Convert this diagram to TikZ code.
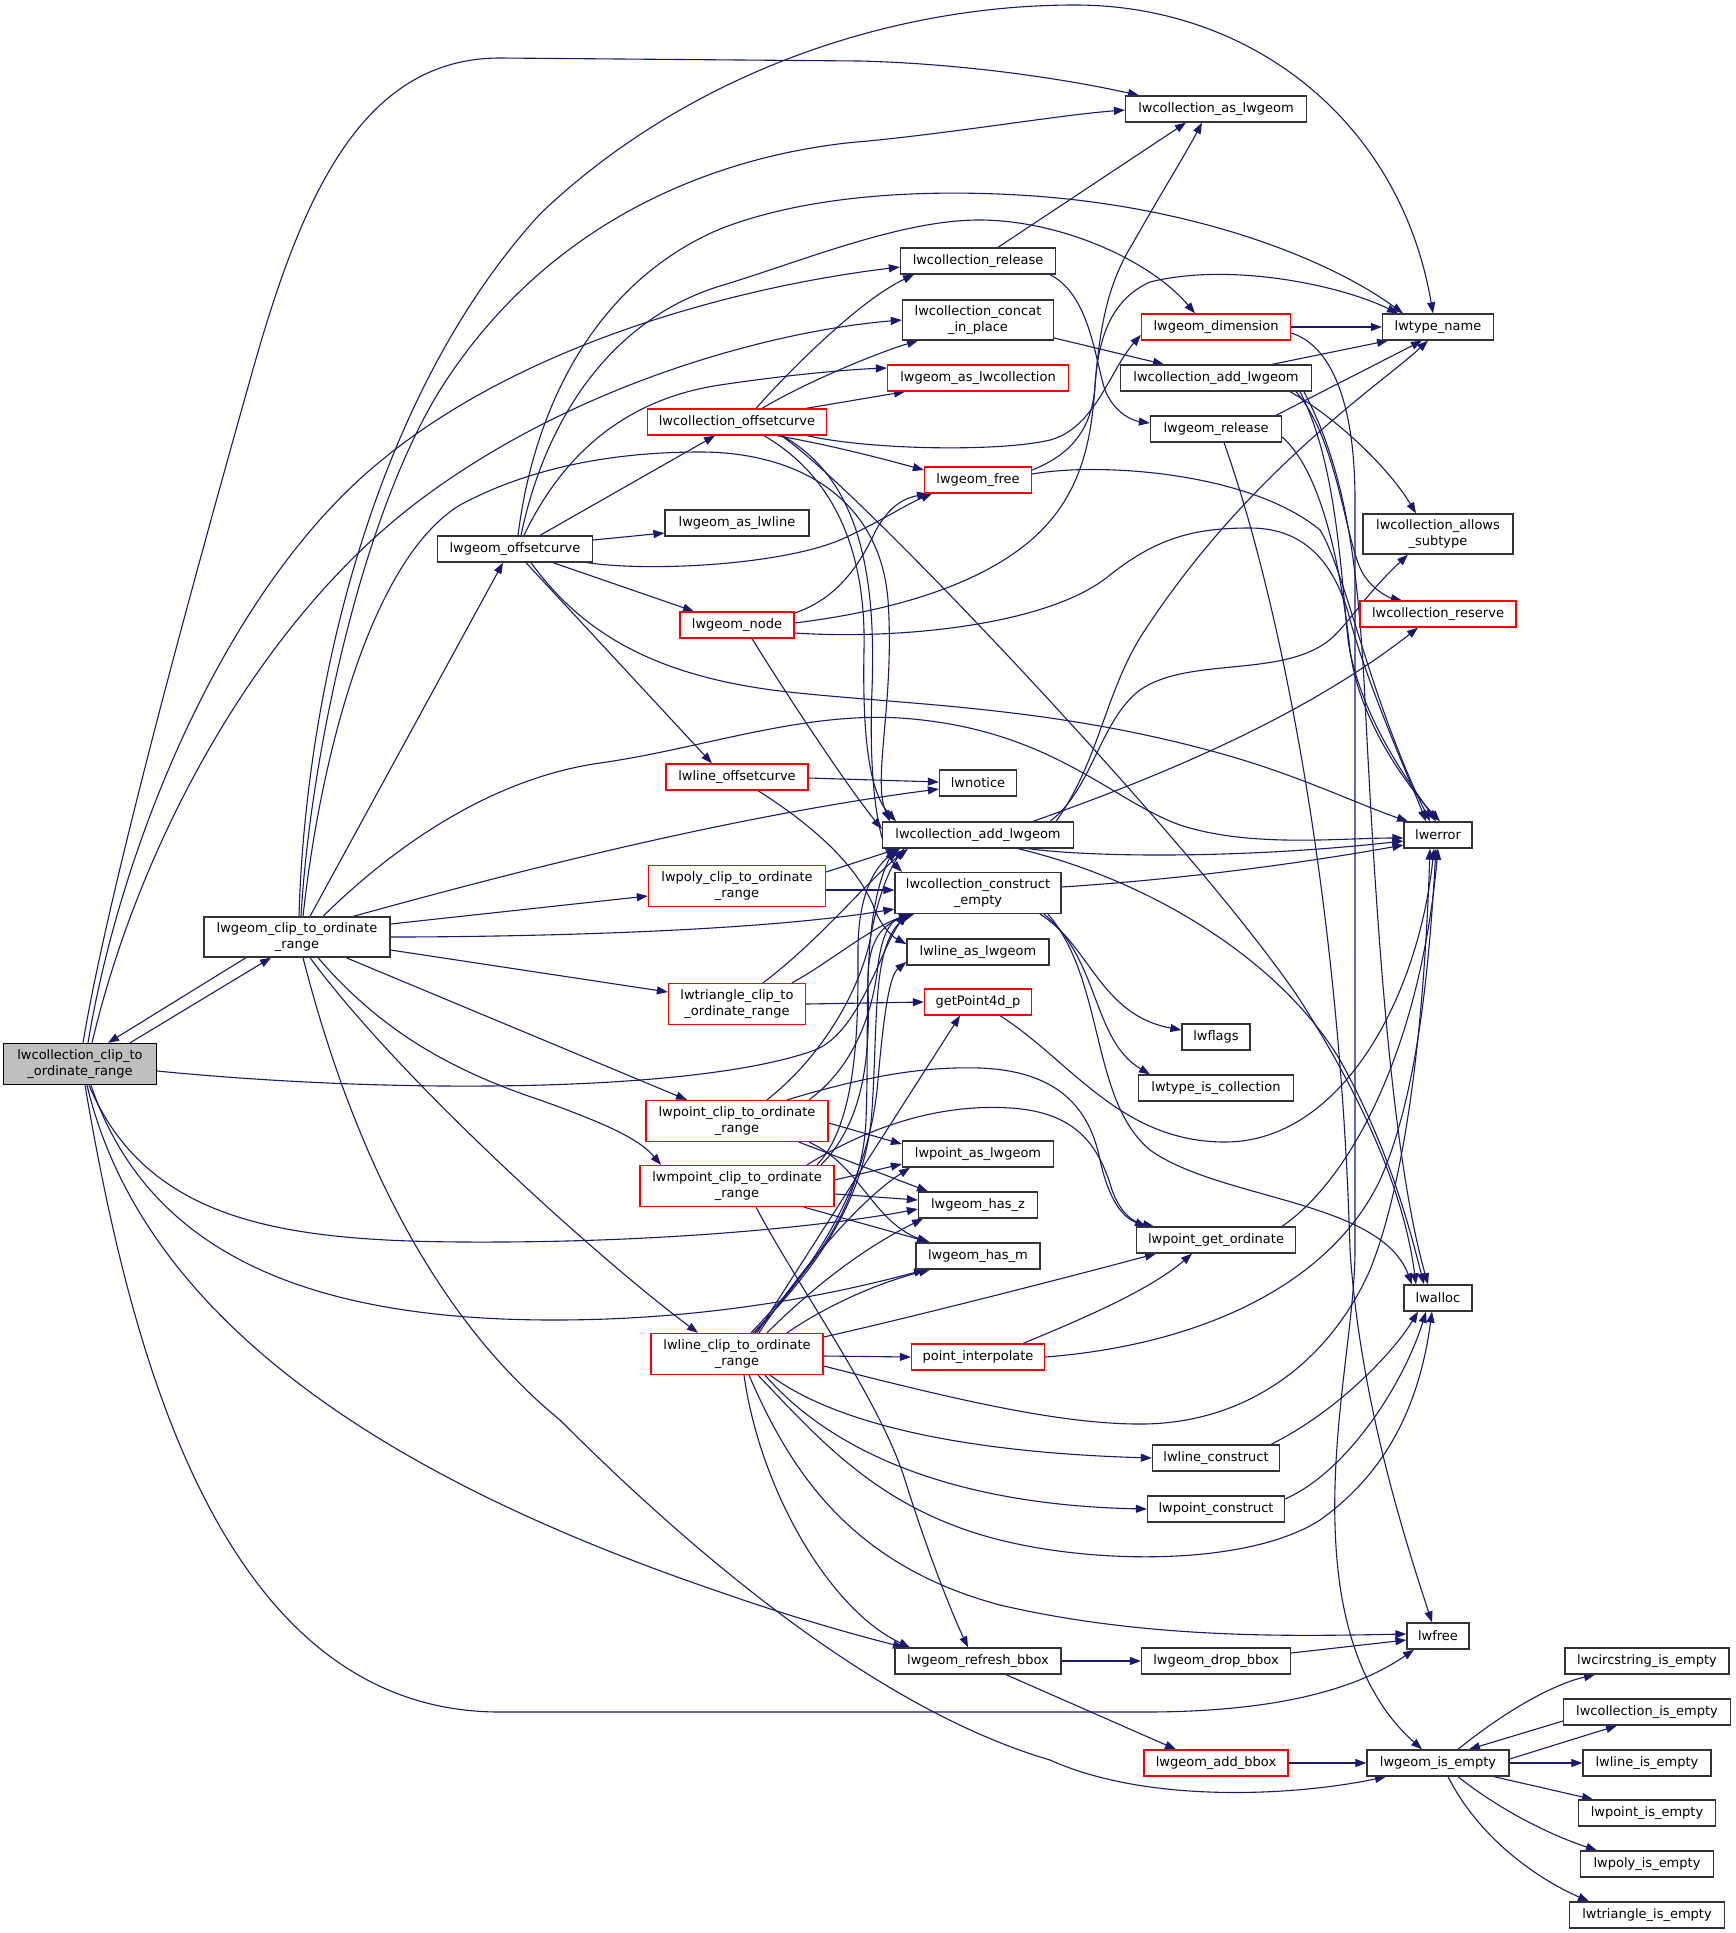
\documentclass[tikz,border=0pt]{standalone}
\usepackage{fontspec}
\setmainfont{DejaVu Sans}
\usetikzlibrary{arrows.meta}
\pgfdeclarelayer{back}
\pgfdeclarelayer{bg}
\pgfsetlayers{back,bg,main}
\definecolor{ecol}{HTML}{191970}
\definecolor{bcol}{HTML}{333333}
\definecolor{rcol}{HTML}{FF0000}
\definecolor{gcol}{HTML}{BFBFBF}
\newcommand{\dxf}{\fontsize{13pt}{15.5pt}\selectfont}
\begin{document}
\begin{tikzpicture}[x=1pt,y=-1pt,
  bbox/.style={draw=bcol, line width=1.3pt, fill=white, inner sep=0pt, minimum height=26pt, font=\dxf, align=center, text=black},
  rbox/.style={bbox, draw=rcol},
  gbox/.style={bbox, fill=gcol, draw=black},
  e/.style={draw=ecol, line width=1.1pt, -{Triangle[length=11pt,width=8pt]}}]
\useasboundingbox (0,0) rectangle (1736,1933);
\begin{pgfonlayer}{back}
\fill[white] (0,0) rectangle (1736,1933);
\end{pgfonlayer}
% nodes
\node[gbox, minimum width=153pt, minimum height=41pt] (A) at (80,1064) {lwcollection\_clip\_to\\\_ordinate\_range};
\node[bbox, minimum width=186pt, minimum height=40pt] (B) at (297,937) {lwgeom\_clip\_to\_ordinate\\\_range};
\node[bbox, minimum width=155pt] (OC) at (515,549) {lwgeom\_offsetcurve};
\node[rbox, minimum width=179pt] (COC) at (737,422) {lwcollection\_offsetcurve};
\node[bbox, minimum width=144pt] (ASL) at (737,523) {lwgeom\_as\_lwline};
\node[rbox, minimum width=114pt] (NODE) at (737,625) {lwgeom\_node};
\node[rbox, minimum width=142pt] (LOC) at (737,777) {lwline\_offsetcurve};
\node[rbox, minimum width=177pt, minimum height=41pt] (POLY) at (737,886) {lwpoly\_clip\_to\_ordinate\\\_range};
\node[rbox, minimum width=137pt, minimum height=41pt] (TRI) at (737,1004) {lwtriangle\_clip\_to\\\_ordinate\_range};
\node[rbox, minimum width=182pt, minimum height=41pt] (PT) at (737,1121) {lwpoint\_clip\_to\_ordinate\\\_range};
\node[rbox, minimum width=194pt, minimum height=41pt] (MPT) at (737,1186) {lwmpoint\_clip\_to\_ordinate\\\_range};
\node[rbox, minimum width=172pt, minimum height=41pt] (LINE) at (737,1354) {lwline\_clip\_to\_ordinate\\\_range};
\node[bbox, minimum width=181pt] (CAS) at (1216,109) {lwcollection\_as\_lwgeom};
\node[bbox, minimum width=155pt] (REL) at (978,261) {lwcollection\_release};
\node[bbox, minimum width=151pt, minimum height=40pt] (CAT) at (978,320) {lwcollection\_concat\\\_in\_place};
\node[rbox, minimum width=181pt] (ASC) at (978,378) {lwgeom\_as\_lwcollection};
\node[rbox, minimum width=107pt] (FREE) at (978,480) {lwgeom\_free};
\node[bbox, minimum width=77pt] (NOTICE) at (978,783) {lwnotice};
\node[bbox, minimum width=191pt] (ADD) at (978,835) {lwcollection\_add\_lwgeom};
\node[bbox, minimum width=166pt, minimum height=41pt] (CE) at (978,893) {lwcollection\_construct\\\_empty};
\node[bbox, minimum width=142pt] (LAS) at (978,952) {lwline\_as\_lwgeom};
\node[rbox, minimum width=107pt] (GP4) at (978,1002) {getPoint4d\_p};
\node[bbox, minimum width=151pt] (PAS) at (978,1154) {lwpoint\_as\_lwgeom};
\node[bbox, minimum width=119pt] (HZ) at (978,1205) {lwgeom\_has\_z};
\node[bbox, minimum width=124pt] (HM) at (978,1256) {lwgeom\_has\_m};
\node[rbox, minimum width=133pt] (PI) at (978,1357) {point\_interpolate};
\node[bbox, minimum width=166pt] (RB) at (978,1661) {lwgeom\_refresh\_bbox};
\node[rbox, minimum width=149pt] (DIM) at (1216,327) {lwgeom\_dimension};
\node[bbox, minimum width=191pt] (ADD2) at (1216,378) {lwcollection\_add\_lwgeom};
\node[bbox, minimum width=131pt] (REL2) at (1216,429) {lwgeom\_release};
\node[bbox, minimum width=68pt] (FLAGS) at (1216,1037) {lwflags};
\node[bbox, minimum width=155pt] (TIC) at (1216,1088) {lwtype\_is\_collection};
\node[bbox, minimum width=159pt] (GO) at (1216,1240) {lwpoint\_get\_ordinate};
\node[bbox, minimum width=127pt] (LC) at (1216,1458) {lwline\_construct};
\node[bbox, minimum width=137pt] (PC) at (1216,1509) {lwpoint\_construct};
\node[bbox, minimum width=149pt] (DB) at (1216,1661) {lwgeom\_drop\_bbox};
\node[rbox, minimum width=144pt] (AB) at (1216,1763) {lwgeom\_add\_bbox};
\node[bbox, minimum width=111pt] (TN) at (1438,327) {lwtype\_name};
\node[bbox, minimum width=150pt, minimum height=40pt] (ALLOWS) at (1438,534) {lwcollection\_allows\\\_subtype};
\node[rbox, minimum width=156pt] (RES) at (1438,614) {lwcollection\_reserve};
\node[bbox, minimum width=68pt] (ERR) at (1438,835) {lwerror};
\node[bbox, minimum width=68pt] (ALLOC) at (1438,1298) {lwalloc};
\node[bbox, minimum width=62pt] (LWFREE) at (1438,1636) {lwfree};
\node[bbox, minimum width=142pt] (ISE) at (1438,1763) {lwgeom\_is\_empty};
\node[bbox, minimum width=164pt] (CIRC) at (1647,1661) {lwcircstring\_is\_empty};
\node[bbox, minimum width=167pt] (COLL) at (1647,1712) {lwcollection\_is\_empty};
\node[bbox, minimum width=128pt] (LISE) at (1647,1763) {lwline\_is\_empty};
\node[bbox, minimum width=137pt] (PISE) at (1647,1813) {lwpoint\_is\_empty};
\node[bbox, minimum width=133pt] (POISE) at (1647,1864) {lwpoly\_is\_empty};
\node[bbox, minimum width=155pt] (TISE) at (1647,1915) {lwtriangle\_is\_empty};
\begin{pgfonlayer}{bg}
% A
\draw[e] ([xshift=50pt]A.north) -- ([xshift=-26pt]B.south);
\draw[e] ([xshift=-51pt]B.south) -- ([xshift=28pt]A.north);
\draw[e] ([xshift=3pt]A.north) .. controls (110,880) and (205,540) .. (250,380) .. controls (300,200) and (360,58) .. (500,58) -- (860,61) .. controls (970,64) and (1070,80) .. ([xshift=-77pt]CAS.north);
\draw[e] ([xshift=8pt]A.north) .. controls (120,850) and (220,600) .. (370,470) .. controls (520,340) and (750,285) .. ([yshift=-6pt]REL.west);
\draw[e] ([xshift=12pt]A.north) .. controls (140,840) and (260,620) .. (420,500) .. controls (580,380) and (780,330) .. (CAT.west);
\draw[e] ([yshift=-7pt]A.east) .. controls (400,1095) and (700,1092) .. (815,1050) .. controls (860,1032) and (880,950) .. ([xshift=-72pt]CE.south);
\draw[e] ([xshift=9pt]A.south) .. controls (150,1230) and (300,1243) .. (500,1242) .. controls (700,1241) and (850,1222) .. ([yshift=-4pt]HZ.west);
\draw[e] ([xshift=11pt]A.south) .. controls (150,1260) and (320,1320) .. (554,1320) .. controls (720,1320) and (850,1290) .. ([xshift=-53pt]HM.south);
\draw[e] ([xshift=7pt]A.south) .. controls (150,1350) and (450,1500) .. (720,1592) .. controls (800,1620) and (860,1636) .. ([xshift=-74pt]RB.north);
\draw[e] ([xshift=5pt]A.south) .. controls (130,1350) and (220,1712) .. (500,1712) -- (1145,1712) .. controls (1300,1712) and (1370,1680) .. ([xshift=-24pt]LWFREE.south);
% B
\draw[e] ([xshift=13pt]B.north) -- ([xshift=-12pt]OC.south);
\draw[e] ([xshift=4pt]B.north) .. controls (310,760) and (360,520) .. (440,390) .. controls (560,200) and (750,150) .. (868,141) .. controls (960,132) and (1060,115) .. ([yshift=-1pt]CAS.west);
\draw[e] ([xshift=2pt]B.north) .. controls (305,700) and (370,400) .. (540,214) .. controls (680,80) and (880,5) .. (1075,5) .. controls (1250,5) and (1400,120) .. ([xshift=-5pt]TN.north);
\draw[e] ([xshift=6pt]B.north) .. controls (320,760) and (370,560) .. (460,505) .. controls (540,462) and (630,452) .. (700,452) .. controls (800,452) and (880,500) .. (888,600) .. controls (895,700) and (872,780) .. ([xshift=-88pt]ADD.north);
\draw[e] ([xshift=56pt]B.north) .. controls (450,890) and (700,820) .. ([yshift=-6pt]NOTICE.west);
\draw[e] ([xshift=26pt]B.north) .. controls (380,860) and (480,780) .. (600,763) .. controls (700,749) and (800,712) .. (900,718) .. controls (1050,728) and (1110,800) .. (1180,825) .. controls (1250,848) and (1340,838) .. ([yshift=-3pt]ERR.west);
\draw[e] ([yshift=13pt]B.east) -- ([yshift=-10pt]POLY.west);
\draw[e] (B.east) .. controls (500,937) and (750,933) .. ([yshift=-16pt]CE.west);
\draw[e] ([yshift=-13pt]B.east) -- ([yshift=12pt]TRI.west);
\draw[e] ([xshift=49pt]B.south) -- ([xshift=-50pt]PT.north);
\draw[e] ([xshift=21pt]B.south) .. controls (380,1030) and (450,1070) .. (540,1100) .. controls (610,1125) and (640,1140) .. ([xshift=-76pt]MPT.north);
\draw[e] ([xshift=13pt]B.south) .. controls (400,1080) and (600,1260) .. ([xshift=-39pt]LINE.north);
\draw[e] ([xshift=6pt]B.south) .. controls (360,1180) and (450,1330) .. (560,1420) .. controls (700,1560) and (880,1710) .. (1050,1760) .. controls (1150,1805) and (1300,1795) .. ([xshift=-52pt]ISE.south);
% OC
\draw[e] ([xshift=25pt]OC.north) -- ([xshift=-22pt]COC.south);
\draw[e] ([yshift=9pt]OC.east) -- ([yshift=-10pt]ASL.west);
\draw[e] ([xshift=38pt]OC.south) -- ([xshift=-43pt]NODE.north);
\draw[e] ([xshift=11pt]OC.south) -- ([xshift=-25pt]LOC.north);
\draw[e] ([xshift=72pt]OC.south) .. controls (650,572) and (780,565) .. (840,540) .. controls (880,522) and (905,505) .. ([xshift=-46pt]FREE.south);
\draw[e] ([xshift=6pt]OC.north) .. controls (545,420) and (610,320) .. (720,286) .. controls (800,262) and (900,220) .. (979,220) .. controls (1060,220) and (1150,260) .. ([xshift=-21pt]DIM.north);
\draw[e] ([xshift=3pt]OC.north) .. controls (535,400) and (600,280) .. (720,229) .. controls (820,190) and (950,190) .. (1034,196) .. controls (1200,208) and (1330,260) .. ([xshift=-35pt]TN.north);
\draw[e] ([xshift=9pt]OC.north) .. controls (560,460) and (620,400) .. (720,385) .. controls (800,373) and (860,369) .. ([yshift=10pt]ASC.west);
\draw[e] ([xshift=16pt]OC.south) .. controls (580,630) and (650,675) .. (780,691) .. controls (900,705) and (1050,705) .. (1226,755) .. controls (1300,776) and (1360,805) .. ([xshift=-30pt]ERR.north);
% COC
\draw[e] ([xshift=19pt]COC.north) .. controls (790,370) and (860,300) .. ([xshift=-64pt]REL.south);
\draw[e] ([xshift=25pt]COC.north) .. controls (810,380) and (880,352) .. ([xshift=-60pt]CAT.south);
\draw[e] ([xshift=69pt]COC.north) -- ([xshift=-73pt]ASC.south);
\draw[e] ([xshift=40pt]COC.south) .. controls (830,445) and (880,458) .. ([yshift=10pt]FREE.west);
\draw[e] ([xshift=70pt]COC.south) .. controls (870,450) and (1000,452) .. (1050,440) .. controls (1095,428) and (1110,370) .. ([yshift=-8pt]DIM.west);
\draw[e] ([xshift=27pt]COC.south) .. controls (840,480) and (866,560) .. (864,650) .. controls (862,750) and (872,795) .. ([xshift=-82pt]ADD.north);
\draw[e] ([xshift=45pt]COC.south) .. controls (862,480) and (876,580) .. (872,690) .. controls (868,790) and (880,850) .. ([xshift=-76pt]CE.north);
\draw[e] ([xshift=44pt]COC.south) .. controls (850,480) and (1200,850) .. (1300,1000) .. controls (1370,1110) and (1405,1200) .. ([xshift=-22pt]ALLOC.north);
% NODE
\draw[e] ([yshift=12pt]NODE.east) .. controls (840,598) and (862,560) .. (876,530) .. controls (890,505) and (905,498) .. ([xshift=-50pt]FREE.south);
\draw[e] ([yshift=2pt]NODE.east) .. controls (900,610) and (1000,580) .. (1050,521) .. controls (1085,480) and (1092,430) .. (1095,386) .. controls (1098,340) and (1110,300) .. (1150,282) .. controls (1230,262) and (1340,285) .. ([xshift=-40pt]TN.north);
\draw[e] ([yshift=-8pt]NODE.east) .. controls (900,640) and (1050,625) .. (1110,575) .. controls (1160,535) and (1200,528) .. (1250,528) .. controls (1310,528) and (1335,570) .. (1348,612) .. controls (1365,680) and (1410,780) .. ([xshift=-12pt]ERR.north);
\draw[e] ([xshift=15pt]NODE.south) .. controls (790,700) and (850,790) .. ([yshift=6pt]ADD.west);
% LOC
\draw[e] ([yshift=-1pt]LOC.east) -- ([yshift=1pt]NOTICE.west);
\draw[e] ([xshift=21pt]LOC.south) .. controls (820,830) and (860,870) .. (875,910) .. controls (883,930) and (895,938) .. ([yshift=8pt]LAS.west);
% POLY
\draw[e] ([yshift=-4pt]POLY.east) -- ([yshift=3pt]CE.west);
\draw[e] ([yshift=14pt]POLY.east) -- ([xshift=-80pt]ADD.south);
% TRI
\draw[e] (TRI.east) -- (GP4.west);
\draw[e] ([xshift=26pt]TRI.north) .. controls (820,940) and (868,880) .. ([xshift=-70pt]ADD.south);
\draw[e] ([xshift=55pt]TRI.north) .. controls (830,962) and (870,928) .. ([xshift=-68pt]CE.south);
% PT
\draw[e] ([xshift=30pt]PT.north) .. controls (830,1050) and (862,980) .. (870,940) .. controls (878,895) and (890,868) .. ([xshift=-74pt]ADD.south);
\draw[e] ([xshift=72pt]PT.north) .. controls (850,1070) and (872,1020) .. (878,965) .. controls (882,935) and (890,920) .. ([xshift=-66pt]CE.south);
\draw[e] ([yshift=-2pt]PT.east) -- ([yshift=10pt]PAS.west);
\draw[e] ([xshift=62pt]PT.south) -- ([xshift=-50pt]HZ.north);
\draw[e] ([xshift=72pt]PT.south) .. controls (860,1165) and (872,1220) .. ([xshift=-50pt]HM.north);
\draw[e] ([xshift=50pt]PT.north) .. controls (860,1078) and (920,1066) .. (980,1068) .. controls (1060,1071) and (1090,1110) .. (1100,1160) .. controls (1110,1205) and (1125,1218) .. ([xshift=-70pt]GO.north);
% MPT
\draw[e] ([xshift=80pt]MPT.north) .. controls (860,1120) and (858,1010) .. (858,950) .. controls (858,900) and (872,868) .. ([xshift=-78pt]ADD.south);
\draw[e] ([xshift=84pt]MPT.north) .. controls (866,1120) and (870,1050) .. (868,990) .. controls (866,940) and (882,924) .. ([xshift=-64pt]CE.south);
\draw[e] ([yshift=6pt]MPT.east) -- ([yshift=-10pt]PAS.west);
\draw[e] ([yshift=-8pt]MPT.east) -- ([yshift=5pt]HZ.west);
\draw[e] ([xshift=67pt]MPT.south) -- ([xshift=-48pt]HM.north);
\draw[e] ([xshift=70pt]MPT.north) .. controls (880,1120) and (950,1104) .. (1010,1108) .. controls (1080,1112) and (1100,1150) .. (1112,1190) .. controls (1120,1212) and (1132,1222) .. ([xshift=-62pt]GO.north);
\draw[e] ([xshift=19pt]MPT.south) .. controls (800,1290) and (880,1400) .. (905,1480) .. controls (930,1560) and (955,1620) .. ([xshift=-10pt]RB.north);
% LINE
\draw[e] ([xshift=14pt]LINE.north) .. controls (810,1270) and (862,1210) .. (866,1120) .. controls (870,1020) and (860,920) .. ([xshift=-84pt]ADD.south);
\draw[e] ([xshift=16pt]LINE.north) .. controls (815,1270) and (866,1200) .. (872,1110) .. controls (878,1020) and (872,950) .. ([xshift=-70pt]CE.south);
\draw[e] ([xshift=18pt]LINE.north) .. controls (820,1260) and (870,1180) .. (878,1080) .. controls (884,1010) and (890,975) .. ([yshift=-10pt]LAS.west);
\draw[e] ([xshift=20pt]LINE.north) -- ([xshift=-18pt]GP4.south);
\draw[e] ([xshift=22pt]LINE.north) .. controls (800,1270) and (860,1200) .. ([xshift=-68pt]PAS.south);
\draw[e] ([xshift=30pt]LINE.north) .. controls (810,1290) and (860,1250) .. ([xshift=-55pt]HZ.south);
\draw[e] ([xshift=50pt]LINE.north) .. controls (820,1310) and (870,1285) .. ([xshift=-48pt]HM.south);
\draw[e] ([yshift=17pt]LINE.east) .. controls (900,1320) and (1050,1282) .. ([xshift=-60pt]GO.south);
\draw[e] ([yshift=-2pt]LINE.east) -- (PI.west);
\draw[e] ([yshift=-12pt]LINE.east) .. controls (950,1398) and (1060,1425) .. (1145,1424) .. controls (1250,1422) and (1330,1360) .. (1370,1270) .. controls (1410,1170) and (1425,1000) .. ([xshift=-8pt]ERR.south);
\draw[e] ([xshift=21pt]LINE.south) .. controls (820,1440) and (880,1510) .. (1000,1540) .. controls (1100,1565) and (1250,1565) .. (1320,1520) .. controls (1390,1470) and (1420,1400) .. ([xshift=-6pt]ALLOC.south);
\draw[e] ([xshift=33pt]LINE.south) .. controls (830,1420) and (950,1452) .. (LC.west);
\draw[e] ([xshift=28pt]LINE.south) .. controls (830,1450) and (950,1505) .. (PC.west);
\draw[e] ([xshift=12pt]LINE.south) .. controls (790,1470) and (850,1565) .. (1000,1605) .. controls (1150,1640) and (1300,1636) .. ([yshift=2pt]LWFREE.west);
\draw[e] ([xshift=7pt]LINE.south) .. controls (760,1490) and (830,1610) .. ([xshift=-68pt]RB.north);
% REL, CAT
\draw[e] ([xshift=20pt]REL.north) -- ([xshift=-30pt]CAS.south);
\draw[e] ([xshift=72pt]REL.south) .. controls (1090,295) and (1095,360) .. (1105,390) .. controls (1115,415) and (1135,421) .. ([yshift=6pt]REL2.west);
\draw[e] ([yshift=-18pt]CAT.east) -- ([xshift=-52pt]ADD2.north);
% FREE
\draw[e] ([yshift=10pt]FREE.east) .. controls (1070,455) and (1092,430) .. (1095,386) .. controls (1100,320) and (1110,280) .. (1133,243) .. controls (1160,195) and (1185,155) .. ([xshift=-14pt]CAS.south);
\draw[e] ([yshift=6pt]FREE.east) .. controls (1100,462) and (1250,472) .. (1320,530) .. controls (1345,570) and (1370,700) .. ([xshift=-8pt]ERR.north);
% ADD
\draw[e] ([xshift=78pt]ADD.north) .. controls (1100,760) and (1105,690) .. (1145,630) .. controls (1250,470) and (1380,385) .. ([xshift=-10pt]TN.south);
\draw[e] ([xshift=72pt]ADD.north) .. controls (1092,790) and (1100,720) .. (1140,690) .. controls (1190,655) and (1290,680) .. (1335,635) .. controls (1352,618) and (1370,590) .. ([xshift=-30pt]ALLOWS.south);
\draw[e] ([xshift=55pt]ADD.north) .. controls (1150,780) and (1300,720) .. ([xshift=-20pt]RES.south);
\draw[e] ([xshift=50pt]ADD.south) .. controls (1100,858) and (1250,858) .. ([yshift=-6pt]ERR.west);
\draw[e] ([xshift=40pt]ADD.south) .. controls (1150,880) and (1280,960) .. (1340,1060) .. controls (1390,1150) and (1410,1230) .. ([xshift=-14pt]ALLOC.north);
% ADD2
\draw[e] ([xshift=56pt]ADD2.north) -- ([xshift=-50pt]TN.south);
\draw[e] ([xshift=74pt]ADD2.south) .. controls (1340,420) and (1390,470) .. ([xshift=-22pt]ALLOWS.north);
\draw[e] ([xshift=80pt]ADD2.south) .. controls (1338,440) and (1345,540) .. (1362,572) .. controls (1372,590) and (1390,598) .. ([xshift=-36pt]RES.north);
\draw[e] ([xshift=84pt]ADD2.south) .. controls (1335,460) and (1340,560) .. (1348,640) .. controls (1360,720) and (1415,790) .. ([xshift=-2pt]ERR.north);
\draw[e] ([xshift=88pt]ADD2.south) .. controls (1345,470) and (1358,560) .. (1365,700) .. controls (1375,900) and (1390,1150) .. ([xshift=-10pt]ALLOC.north);
% REL2
\draw[e] ([xshift=60pt]REL2.north) -- ([xshift=-16pt]TN.south);
\draw[e] ([yshift=-8pt]REL2.east) .. controls (1320,470) and (1340,560) .. (1350,650) .. controls (1360,730) and (1420,800) .. ([xshift=2pt]ERR.north);
\draw[e] ([xshift=8pt]REL2.south) .. controls (1280,600) and (1340,900) .. (1350,1250) .. controls (1360,1400) and (1405,1540) .. ([xshift=-6pt]LWFREE.north);
% DIM
\draw[e] (DIM.east) -- (TN.west);
\draw[e] ([yshift=-6pt]DIM.east) .. controls (1330,345) and (1355,400) .. (1355,500) -- (1355,1250) .. controls (1355,1330) and (1325,1450) .. (1338,1570) .. controls (1350,1680) and (1395,1725) .. ([xshift=-16pt]ISE.north);
% CE
\draw[e] ([yshift=6pt]CE.east) .. controls (1200,878) and (1320,860) .. ([yshift=-10pt]ERR.west);
\draw[e] ([xshift=62pt]CE.south) .. controls (1090,945) and (1100,1015) .. ([yshift=7pt]FLAGS.west);
\draw[e] ([xshift=66pt]CE.south) .. controls (1100,960) and (1092,1040) .. ([xshift=-66pt]TIC.north);
\draw[e] ([xshift=70pt]CE.south) .. controls (1105,980) and (1090,1100) .. (1150,1150) .. controls (1220,1200) and (1380,1200) .. ([xshift=-26pt]ALLOC.north);
% GP4, PI, GO
\draw[e] ([xshift=22pt]GP4.south) .. controls (1070,1060) and (1120,1142) .. (1225,1142) .. controls (1340,1142) and (1418,1000) .. ([xshift=-4pt]ERR.south);
\draw[e] ([xshift=45pt]PI.north) .. controls (1080,1320) and (1150,1290) .. ([xshift=-24pt]GO.south);
\draw[e] (PI.east) .. controls (1200,1345) and (1330,1285) .. (1380,1180) .. controls (1420,1090) and (1430,950) .. ([xshift=-2pt]ERR.south);
\draw[e] ([xshift=66pt]GO.north) .. controls (1350,1180) and (1420,1050) .. (ERR.south);
% LC PC
\draw[e] ([xshift=55pt]LC.north) .. controls (1340,1410) and (1395,1350) .. ([xshift=-20pt]ALLOC.south);
\draw[e] ([yshift=10pt]PC.east) .. controls (1350,1470) and (1405,1380) .. ([xshift=-12pt]ALLOC.south);
% RB DB AB
\draw[e] (RB.east) -- (DB.west);
\draw[e] ([xshift=28pt]RB.south) -- ([xshift=-40pt]AB.north);
\draw[e] ([yshift=8pt]DB.east) -- ([yshift=-4pt]LWFREE.west);
\draw[e] (AB.east) -- (ISE.west);
% ISE
\draw[e] ([xshift=20pt]ISE.north) .. controls (1500,1715) and (1550,1685) .. ([xshift=-52pt]CIRC.south);
\draw[e] ([yshift=4pt]ISE.east) -- ([xshift=-30pt]COLL.south);
\draw[e] ([yshift=-9pt]COLL.west) -- ([xshift=31pt]ISE.north);
\draw[e] (ISE.east) -- (LISE.west);
\draw[e] ([xshift=56pt]ISE.south) -- ([xshift=-54pt]PISE.north);
\draw[e] ([xshift=20pt]ISE.south) .. controls (1500,1810) and (1550,1835) .. ([xshift=-50pt]POISE.north);
\draw[e] ([xshift=10pt]ISE.south) .. controls (1480,1840) and (1540,1880) .. ([xshift=-58pt]TISE.north);
\end{pgfonlayer}
\end{tikzpicture}
\end{document}
